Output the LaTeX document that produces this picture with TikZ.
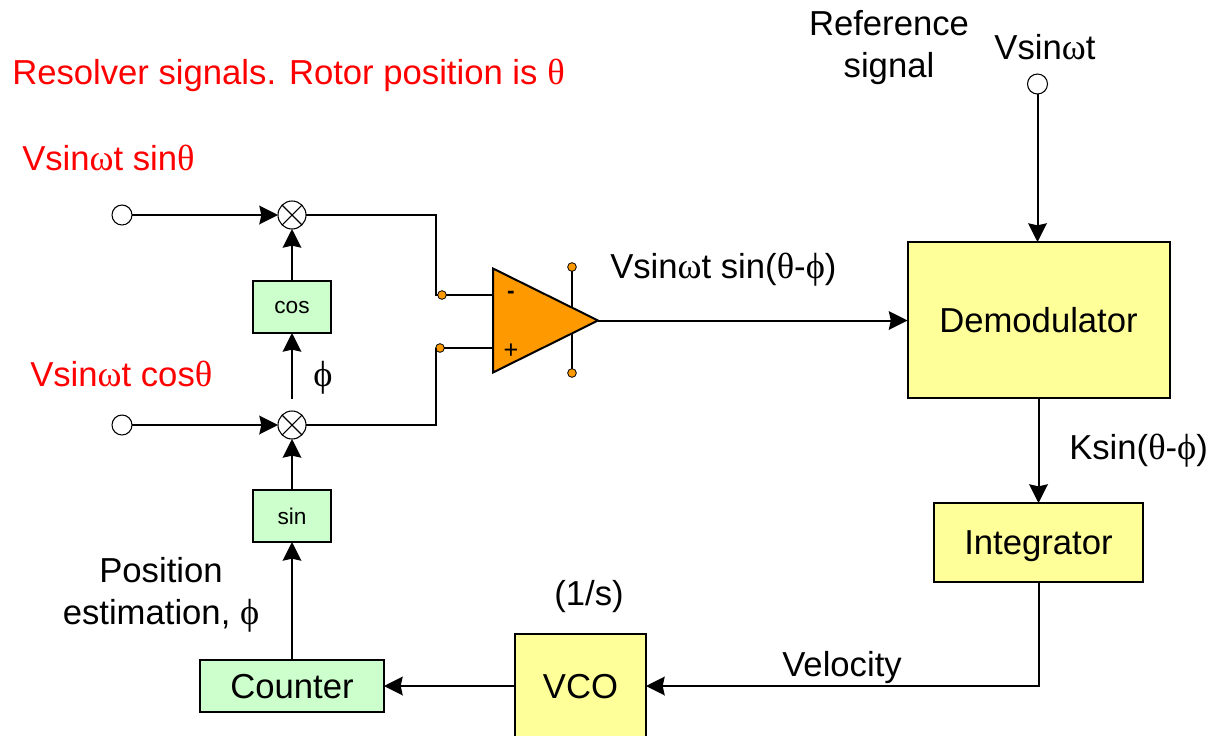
\documentclass[tikz,border=0pt]{standalone}
\usepackage{fontspec}
\setmainfont{Liberation Sans}
\newfontfamily\grk[Scale=1.05]{Liberation Serif}
\usetikzlibrary{positioning,arrows.meta,shapes.geometric}
\definecolor{boxyellow}{HTML}{FFFF99}
\definecolor{boxgreen}{HTML}{CCFFCC}
\definecolor{ampfill}{HTML}{FF9900}
\newcommand{\om}{{\grk ω}}
\newcommand{\tht}{{\grk θ}}
\newcommand{\ph}{{\grk ϕ}}

\begin{document}
\begin{tikzpicture}[
  x=0.75pt, y=-0.75pt,
  font=\fontsize{26}{31.5}\selectfont,
  block/.style={draw, line width=1.5pt, outer sep=0pt, inner sep=0pt, align=center, text depth=0pt},
  yblock/.style={block, fill=boxyellow},
  gblock/.style={block, fill=boxgreen},
  small/.style={font=\fontsize{17}{20}\selectfont},
  mixer/.style={circle, draw, line width=0.8pt, fill=white, minimum size=21pt, inner sep=0pt,
                outer sep=0pt, path picture={
                  \draw[line width=0.8pt] (path picture bounding box.north west) -- (path picture bounding box.south east)
                    (path picture bounding box.north east) -- (path picture bounding box.south west);}},
  port/.style={circle, draw, line width=0.8pt, fill=white, minimum size=15pt, inner sep=0pt, outer sep=0pt},
  pin/.style={circle, draw, line width=0.6pt, fill=ampfill, minimum size=6.5pt, inner sep=0pt, outer sep=0pt},
  sig/.style={-{Stealth[length=14pt, width=14pt, inset=1.5pt]}, line width=1.5pt},
  wire/.style={line width=1.5pt},
  redlabel/.style={text=red, anchor=base west, inner sep=0pt},
  label/.style={anchor=base, inner sep=0pt, align=center},
]
  \useasboundingbox (0,0) rectangle (1208,736);

  % right hand chain
  \node[yblock, minimum width=196.5pt, minimum height=117pt] (demod) at (1038.5,320) {Demodulator};
  \node[yblock, minimum width=156.75pt, minimum height=59.25pt, below=78.75pt of demod] (integ) {Integrator};
  \node[yblock, minimum width=98.25pt, minimum height=78pt] (vco) at (580.5,686) {VCO};
  \node[gblock, minimum width=138pt, minimum height=39pt, left=98.25pt of vco] (counter) {Counter};

  % left hand chain
  \node[gblock, small, minimum width=58.5pt, minimum height=39pt, above=88.5pt of counter] (sin) {sin};
  \node[mixer, above=38.25pt of sin] (mixb) {};
  \node[gblock, small, minimum width=58.5pt, minimum height=39pt, above=58.5pt of mixb] (cos) {cos};
  \node[mixer, above=39pt of cos] (mixa) {};
  \node[port, left=109.5pt of mixa] (ina) {};
  \node[port, left=109.5pt of mixb] (inb) {};
  \node[port] (ref) at (1037.5,84) {};

  % amplifier, supply pins go behind it
  \node[pin] (pinp) at (572,267) {};
  \node[pin] (pinn) at (572,373) {};
  \draw[wire] (pinp) -- (pinn);
  \node[isosceles triangle, isosceles triangle stretches, draw, line width=1.5pt, fill=ampfill,
        minimum width=78pt, minimum height=78.75pt, inner sep=0pt, outer sep=0pt,
        anchor=apex] (amp) at (598,320.5) {};
  \node[pin] (pinm) at (442,295) {};
  \node[pin] (pina) at (440,348) {};
  \node[inner sep=0pt, font=\fontsize{17}{20}\selectfont\bfseries] (minus) at (511,295) {-};
  \node[inner sep=0pt, font=\fontsize{19}{20}\selectfont] (plus) at (511,351) {+};

  \draw[sig] (ina) -- (mixa);
  \draw[sig] (inb) -- (mixb);
  \draw[sig] (cos) -- (mixa);
  \draw[sig, shorten <=9pt] (mixb) -- (cos);
  \draw[sig] (sin) -- (mixb);
  \draw[sig] (counter) -- (sin);
  \draw[wire] (mixa) -- (mixa -| pina.west) |- (pinm);
  \draw[wire] (mixb) -- (mixb -| pina.west) |- (pina);
  \draw[wire] (pinm) -- (pinm -| amp.west);
  \draw[wire] (pina) -- (pina -| amp.west);
  \draw[sig] (amp.apex) -- (amp.apex -| demod.west);
  \draw[sig] (ref) -- (ref |- demod.north);
  \draw[sig] (demod) -- (integ);
  \draw[sig] (integ.south) |- (vco);
  \draw[sig] (vco) -- (counter);

  % labels
  \node[redlabel] (title) at (12,84) {Resolver signals. Rotor position is \tht};
  \node[redlabel] (labsin) at (22,170) {Vsin\om t sin\tht};
  \node[redlabel] (labcos) at (30,386) {Vsin\om t cos\tht};
  \node[label] (labref) at (889,77) {Reference\\signal};
  \node[label] (labvs) at (1045,59) {Vsin\om t};
  \node[label, anchor=base west] (labdiff) at (610,278) {Vsin\om t sin(\tht-\ph)};
  \node[label] (labphi) at (323,386) {\ph};
  \node[label, anchor=base west] (labk) at (1069,459) {Ksin(\tht-\ph)};
  \node[label] (labint) at (589,605) {(1/s)};
  \node[label] (labvel) at (842,676) {Velocity};
  \node[label] (labpos) at (161,624) {Position\\estimation, \ph};
\end{tikzpicture}
\end{document}
